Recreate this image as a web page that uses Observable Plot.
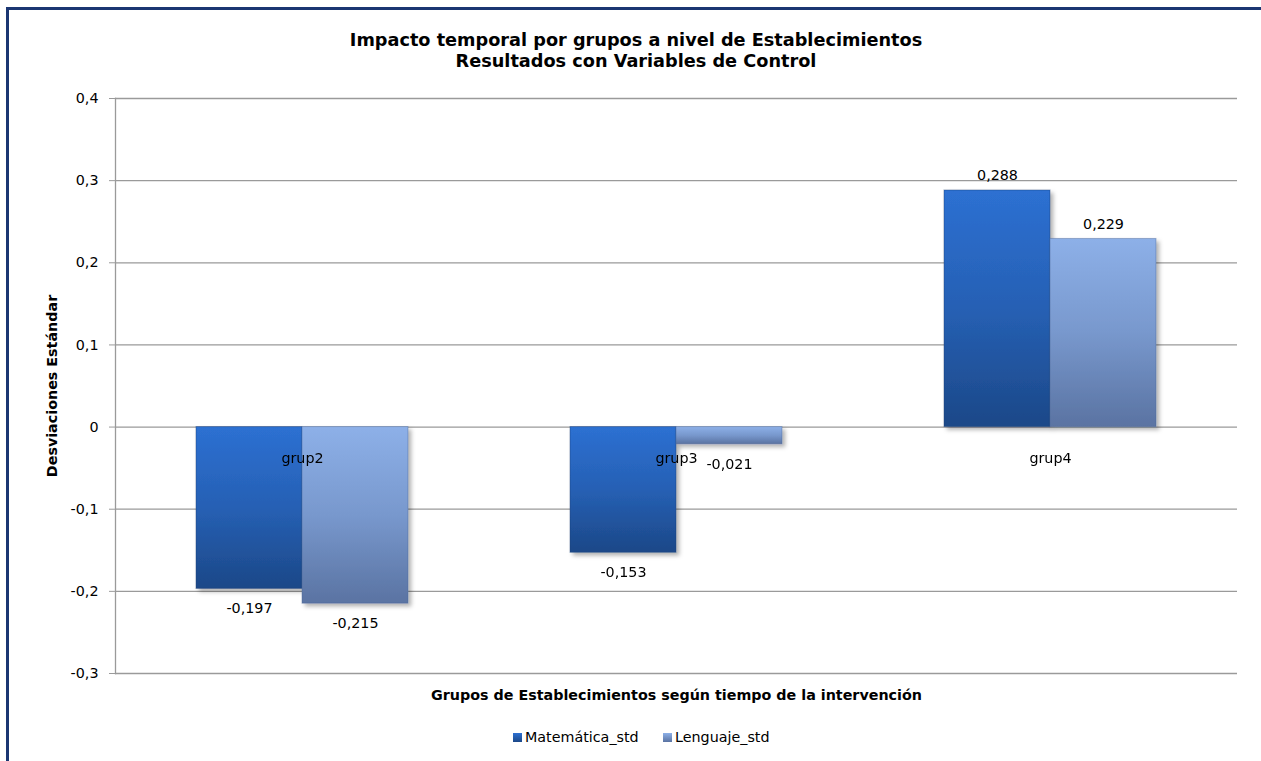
<!DOCTYPE html>
<html>
<head>
<meta charset="utf-8">
<script src="https://cdn.jsdelivr.net/npm/d3@7"></script>
<script src="https://cdn.jsdelivr.net/npm/@observablehq/plot@0.6"></script>
<style>
  html, body { margin: 0; padding: 0; background: #fff; overflow: hidden; }
  body { width: 1261px; height: 761px; position: relative; font-family: Tahoma, "DejaVu Sans", sans-serif; color: #000; }
  #border { position: absolute; left: 6px; top: 7px; width: 1255px; height: 754px; border-left: 3px solid #1b3672; border-top: 3px solid #1b3672; box-sizing: border-box; }
  #title { position: absolute; left: 0; top: 30px; width: 1272px; text-align: center; font-weight: bold; font-size: 17.7px; line-height: 21px; }
  #chart { position: absolute; left: 0; top: 80px; }
  #legend { position: absolute; left: 0; top: 729px; width: 1261px; font-size: 14.3px; }
  .li { position: absolute; top: 0; display: flex; align-items: center; }
  .sw { width: 9px; height: 9px; margin-right: 3px; }
  g[aria-label="y-axis label"] text, g[aria-label="fx-axis label"] text { font-weight: bold; }
</style>
</head>
<body>
<div id="border"></div>
<div id="title">Impacto temporal por grupos a nivel de Establecimientos<br>Resultados con Variables de Control</div>
<div id="chart"></div>
<div id="legend"></div>
<script>
const groups = ["grup2", "grup3", "grup4"];
const series = ["Matemática_std", "Lenguaje_std"];
const matematica = [-0.197, -0.153, 0.288];
const lenguaje = [-0.215, -0.021, 0.229];
const yTicks = [-0.3, -0.2, -0.1, 0, 0.1, 0.2, 0.3, 0.4];
const yLabel = "Desviaciones Estándar";
const xLabel = "Grupos de Establecimientos según tiempo de la intervención";

const data = groups.flatMap((g, i) => [
  {group: g, series: series[0], value: matematica[i]},
  {group: g, series: series[1], value: lenguaje[i]}
]);
const fills = {[series[0]]: "url(#gMat)", [series[1]]: "url(#gLen)"};
const fmt = v => String(v).replace(".", ",");

const plot = Plot.plot({
  width: 1261,
  height: 630,
  marginLeft: 114,
  marginRight: 23,
  marginTop: 18,
  marginBottom: 37,
  style: {fontFamily: 'Tahoma, "DejaVu Sans", sans-serif', fontSize: "14.3px", color: "#000", background: "transparent", overflow: "visible"},
  fx: {domain: groups, padding: 0},
  x: {domain: series, paddingInner: 0, paddingOuter: 0.752, axis: null},
  y: {domain: [-0.3, 0.4]},
  marks: [
    Plot.gridY(yTicks, {stroke: "#9a9a9a", strokeOpacity: 1, strokeWidth: 1.3}),
    Plot.frame({anchor: "left", facetAnchor: "left", stroke: "#9a9a9a", strokeWidth: 1.3}),
    ...series.map(s => Plot.barY(data.filter(d => d.series === s), {
      fx: "group", x: "series", y: "value", fill: fills[s],
      stroke: s === series[0] ? "#1a3f75" : "#4c6596", strokeOpacity: 0.45, strokeWidth: 1
    })),
    Plot.text(groups, {fx: d => d, y: 0, text: d => d, dy: 31, fill: "#000"}),
    Plot.text(data.filter(d => d.value < 0), {fx: "group", x: "series", y: "value", text: d => fmt(d.value), dy: 20, fill: "#000"}),
    Plot.text(data.filter(d => d.value >= 0), {fx: "group", x: "series", y: "value", text: d => fmt(d.value), dy: -15, fill: "#000"}),
    Plot.axisY(yTicks, {tickFormat: fmt, tickSize: 6, tickPadding: 11, stroke: "#9a9a9a", label: yLabel, labelAnchor: "center", labelArrow: "none", labelOffset: 69}),
    Plot.axisFx({anchor: "bottom", label: xLabel, labelAnchor: "center", labelArrow: "none", tickSize: 0, tickFormat: () => "", labelOffset: 26})
  ]
});

const ns = "http://www.w3.org/2000/svg";
const defs = document.createElementNS(ns, "defs");
defs.innerHTML = `
  <linearGradient id="gMat" x1="0" y1="0" x2="0" y2="1">
    <stop offset="0" stop-color="#2d70d2"/>
    <stop offset="0.5" stop-color="#2660b4"/>
    <stop offset="1" stop-color="#1c4888"/>
  </linearGradient>
  <linearGradient id="gLen" x1="0" y1="0" x2="0" y2="1">
    <stop offset="0" stop-color="#8db0e8"/>
    <stop offset="0.5" stop-color="#7898cd"/>
    <stop offset="1" stop-color="#5a73a2"/>
  </linearGradient>
  <filter id="shadow" x="-10%" y="-10%" width="130%" height="130%">
    <feDropShadow dx="3" dy="3" stdDeviation="2" flood-color="#000" flood-opacity="0.3"/>
  </filter>`;
plot.insertBefore(defs, plot.firstChild);
plot.querySelectorAll('g[aria-label="bar"]').forEach(g => g.setAttribute("filter", "url(#shadow)"));
document.getElementById("chart").appendChild(plot);

const legend = document.getElementById("legend");
const legendX = [513, 663];
series.forEach((s, i) => {
  const item = document.createElement("div");
  item.className = "li";
  item.style.left = legendX[i] + "px";
  const sw = document.createElement("div");
  sw.className = "sw";
  sw.style.background = i === 0 ? "linear-gradient(#2d70d2, #1c4888)" : "linear-gradient(#8db0e8, #5a73a2)";
  const t = document.createElement("span");
  t.textContent = s;
  item.appendChild(sw);
  item.appendChild(t);
  legend.appendChild(item);
});
</script>
</body>
</html>
